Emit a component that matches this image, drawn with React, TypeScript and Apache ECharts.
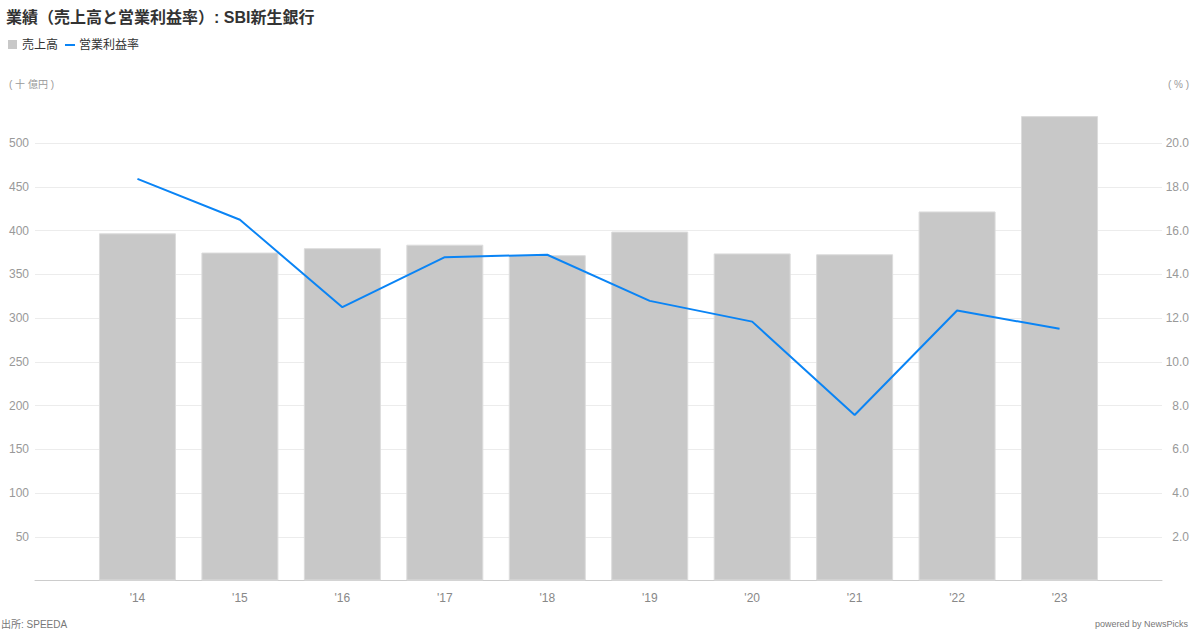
import React, { useEffect, useRef } from "react";
import * as echarts from "echarts";

const categories: string[] = ["'14", "'15", "'16", "'17", "'18", "'19", "'20", "'21", "'22", "'23"];
const salesValues: number[] = [397, 375, 380, 384, 372, 399, 374, 373, 422, 531];
const marginValues: number[] = [18.37, 16.5, 12.5, 14.79, 14.9, 12.79, 11.84, 7.57, 12.35, 11.51];
const leftTicks = { min: 0, max: 550, interval: 50 };
const rightTicks = { min: 0, max: 22, interval: 2 };

const TITLE = "業績（売上高と営業利益率）: SBI新生銀行";
const LEGEND_BAR = "売上高";
const LEGEND_LINE = "営業利益率";
const LEFT_UNIT = "( 十 億円 )";
const RIGHT_UNIT = "( % )";
const SOURCE = "出所: SPEEDA";
const POWERED = "powered by NewsPicks";

const FONT = "'Liberation Sans', Arial, 'Noto Sans CJK JP', sans-serif";
const BAR_COLOR = "#c8c8c8";
const LINE_COLOR = "#0a84f5";

export default function App() {
  const ref = useRef<HTMLDivElement>(null);
  useEffect(() => {
    if (!ref.current) return;
    const chart = echarts.init(ref.current, undefined, { renderer: "svg" });
    // padded categories so points sit one slot in from each edge
    const xCats = ["", ...categories, ""];
    const barData = [null, ...salesValues, null];
    const lineData = [null, ...marginValues, null];
    const nLines = Math.round((leftTicks.max - leftTicks.min) / leftTicks.interval) + 1;
    const splitColors: string[] = [];
    for (let i = 0; i < nLines; i++) splitColors.push(i === nLines - 1 ? "transparent" : "#ececec");

    chart.setOption({
      animation: false,
      textStyle: { fontFamily: FONT },
      grid: { left: 35, right: 38, top: 99.5, bottom: 49.5, containLabel: false },
      xAxis: {
        type: "category",
        data: xCats,
        boundaryGap: false,
        axisLine: { lineStyle: { color: "#cccccc", width: 1 } },
        axisTick: { show: false },
        axisLabel: { color: "#888", fontSize: 12, margin: 11, fontFamily: FONT },
        splitLine: { show: false },
      },
      yAxis: [
        {
          type: "value",
          min: leftTicks.min,
          max: leftTicks.max,
          interval: leftTicks.interval,
          axisLine: { show: false },
          axisTick: { show: false },
          axisLabel: {
            color: "#999",
            fontSize: 12,
            margin: 6,
            showMinLabel: false,
            showMaxLabel: false,
            fontFamily: FONT,
          },
          splitLine: { show: true, lineStyle: { color: splitColors, width: 1 } },
        },
        {
          type: "value",
          min: rightTicks.min,
          max: rightTicks.max,
          interval: rightTicks.interval,
          position: "right",
          axisLine: { show: false },
          axisTick: { show: false },
          axisLabel: {
            color: "#999",
            fontSize: 12,
            margin: 27,
            align: "right",
            showMinLabel: false,
            showMaxLabel: false,
            fontFamily: FONT,
            formatter: (v: number) => v.toFixed(1),
          },
          splitLine: { show: false },
        },
      ],
      series: [
        {
          name: LEGEND_BAR,
          type: "bar",
          data: barData,
          barWidth: 77,
          yAxisIndex: 0,
          itemStyle: { color: BAR_COLOR, borderColor: "#dcdcdc", borderWidth: 1 },
          silent: true,
        },
        {
          name: LEGEND_LINE,
          type: "line",
          data: lineData,
          yAxisIndex: 1,
          symbol: "none",
          connectNulls: false,
          lineStyle: { color: LINE_COLOR, width: 2 },
          silent: true,
        },
      ],
      graphic: [
        {
          type: "text",
          left: 6,
          top: 9,
          style: { text: TITLE, fill: "#333", font: `bold 16px ${FONT}` },
        },
        { type: "rect", left: 8, top: 40, shape: { width: 9, height: 9 }, style: { fill: BAR_COLOR } },
        {
          type: "text",
          left: 22,
          top: 39,
          style: { text: LEGEND_BAR, fill: "#333", font: `12px ${FONT}` },
        },
        {
          type: "rect",
          left: 65,
          top: 44,
          shape: { width: 10, height: 2 },
          style: { fill: LINE_COLOR },
        },
        {
          type: "text",
          left: 79,
          top: 39,
          style: { text: LEGEND_LINE, fill: "#333", font: `12px ${FONT}` },
        },
        {
          type: "text",
          left: 9,
          top: 79,
          style: { text: LEFT_UNIT, fill: "#999", font: `10px ${FONT}` },
        },
        {
          type: "text",
          right: 11,
          top: 79,
          style: { text: RIGHT_UNIT, fill: "#999", font: `10px ${FONT}` },
        },
        {
          type: "text",
          left: 1,
          top: 619,
          style: { text: SOURCE, fill: "#777", font: `10px ${FONT}` },
        },
        {
          type: "text",
          right: 12,
          top: 619,
          style: { text: POWERED, fill: "#777", font: `9px ${FONT}` },
        },
      ],
    });
    return () => chart.dispose();
  }, []);
  return (
    <div
      ref={ref}
      style={{ position: "fixed", left: 0, top: 0, width: 1200, height: 630, background: "#fff" }}
    />
  );
}
